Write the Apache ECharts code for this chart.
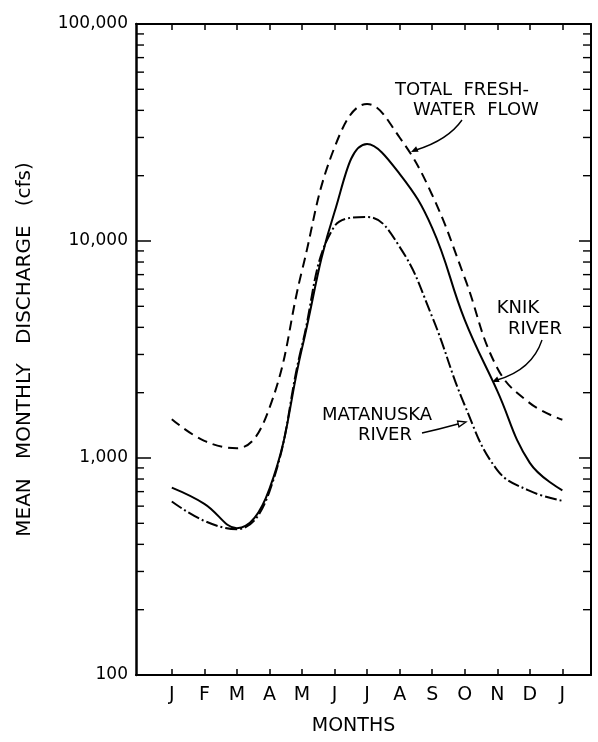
<!DOCTYPE html>
<html>
<head>
<meta charset="utf-8">
<script src="https://cdn.jsdelivr.net/npm/echarts@6/dist/echarts.min.js"></script>
<style>
  html, body { margin: 0; padding: 0; background: #fff; }
  #chart { width: 598px; height: 742px; }
</style>
</head>
<body>
<div id="chart"></div>
<script>
const MONTHS = ["J", "F", "M", "A", "M", "J", "J", "A", "S", "O", "N", "D", "J"];
const MONTH_POS = [0, 1, 2, 3, 4, 5, 6, 7, 8, 9, 10, 11, 12];

// mean monthly discharge, cfs
const TOTAL = [1510, 1200, 1110, 1700, 7300, 27000, 42800, 30000, 16300, 6760, 2600, 1790, 1500];
const KNIK = [730, 615, 475, 720, 3200, 13600, 28000, 20400, 11500, 4330, 2040, 950, 710];
const MATANUSKA = [630, 513, 470, 700, 3300, 11700, 12900, 9400, 4470, 1750, 880, 705, 635];

const Y_TICKS = [100, 1000, 10000, 100000];
const MINOR_TICKS = [200, 300, 400, 500, 600, 700, 800, 900,
  2000, 3000, 4000, 5000, 6000, 7000, 8000, 9000,
  20000, 30000, 40000, 50000, 60000, 70000, 80000, 90000];

const FONT = "DejaVu Sans";
const X_MIN = -1.1, X_MAX = 12.88;

const pairs = vals => MONTH_POS.map((m, i) => [m, vals[i]]);
const fmtNum = v => String(v).replace(/\B(?=(\d{3})+(?!\d))/g, ",");

function arrowHead(tip, from, len, half, filled) {
  const dx = tip[0] - from[0], dy = tip[1] - from[1];
  const d = Math.hypot(dx, dy);
  const ux = dx / d, uy = dy / d;
  const bx = tip[0] - ux * len, by = tip[1] - uy * len;
  return {
    type: "polygon",
    shape: { points: [tip, [bx - uy * half, by + ux * half], [bx + uy * half, by - ux * half]] },
    style: filled ? { fill: "#000" } : { fill: "#fff", stroke: "#000", lineWidth: 1.3 },
    z: 20,
  };
}

function label(text, x, y) {
  return {
    type: "text", x, y, z: 20,
    style: { text, font: `18px "${FONT}"`, fill: "#000", align: "center", verticalAlign: "middle" },
  };
}

const chart = echarts.init(document.getElementById("chart"));

const lineBase = { type: "line", symbol: "none", smooth: 0.42, silent: true, xAxisIndex: 0, yAxisIndex: 0 };

chart.setOption({
  backgroundColor: "#fff",
  animation: false,
  grid: { left: 136, right: 7, top: 24, bottom: 67 },
  xAxis: [{
    type: "value", min: X_MIN, max: X_MAX, position: "bottom",
    axisLine: { show: true, onZero: false, lineStyle: { color: "#000", width: 2.2 } },
    axisTick: { show: true, inside: true, length: 6, customValues: MONTH_POS, lineStyle: { color: "#000", width: 1.5 } },
    axisLabel: {
      customValues: MONTH_POS, margin: 11, color: "#000", fontFamily: FONT, fontSize: 19,
      formatter: v => MONTHS[Math.round(v)],
    },
    splitLine: { show: false },
    name: "MONTHS", nameLocation: "middle", nameGap: 42,
    nameTextStyle: { color: "#000", fontFamily: FONT, fontSize: 19, padding: [0, 20, 0, 0] },
  }, {
    type: "value", min: X_MIN, max: X_MAX, position: "top",
    axisLine: { show: true, onZero: false, lineStyle: { color: "#000", width: 2 } },
    axisTick: { show: true, inside: true, length: 6, customValues: MONTH_POS, lineStyle: { color: "#000", width: 1.5 } },
    axisLabel: { show: false },
    splitLine: { show: false },
  }],
  yAxis: [{
    type: "log", logBase: 10, min: 100, max: 100000, position: "left",
    axisLine: { show: true, onZero: false, lineStyle: { color: "#000", width: 2.5 } },
    axisTick: { show: true, inside: true, length: 15, lineStyle: { color: "#000", width: 1.5 } },
    axisLabel: {
      customValues: Y_TICKS, margin: 8, color: "#000", fontFamily: FONT, fontSize: 17,
      formatter: v => fmtNum(Math.round(v)),
    },
    splitLine: { show: false },
    name: "MEAN   MONTHLY   DISCHARGE   (cfs)", nameLocation: "middle", nameGap: 101, nameRotate: 90,
    nameTextStyle: { color: "#000", fontFamily: FONT, fontSize: 20 },
  }, {
    type: "log", logBase: 10, min: 100, max: 100000, position: "right",
    axisLine: { show: true, onZero: false, lineStyle: { color: "#000", width: 2 } },
    axisTick: { show: true, inside: true, length: 12, lineStyle: { color: "#000", width: 1.5 } },
    axisLabel: { show: false },
    splitLine: { show: false },
  }],
  series: [
    // minor log ticks on both vertical axes
    {
      type: "custom", silent: true, xAxisIndex: 0, yAxisIndex: 0, clip: false,
      data: MINOR_TICKS.map(v => [X_MIN, v]),
      renderItem: (params, api) => {
        const cs = params.coordSys;
        const y = api.coord([X_MIN, api.value(1)])[1];
        const st = { stroke: "#000", lineWidth: 1.4 };
        return {
          type: "group",
          children: [
            { type: "line", shape: { x1: cs.x, y1: y, x2: cs.x + 8, y2: y }, style: st },
            { type: "line", shape: { x1: cs.x + cs.width - 8, y1: y, x2: cs.x + cs.width, y2: y }, style: st },
          ],
        };
      },
    },
    { ...lineBase, name: "Total fresh-water flow", data: pairs(TOTAL),
      lineStyle: { color: "#000", width: 2, type: [10, 6] } },
    { ...lineBase, name: "Knik River", data: pairs(KNIK),
      lineStyle: { color: "#000", width: 2, type: "solid" } },
    { ...lineBase, name: "Matanuska River", data: pairs(MATANUSKA),
      lineStyle: { color: "#000", width: 2, type: [12, 3, 2, 3] } },
  ],
  graphic: [
    label("TOTAL  FRESH-", 462, 90),
    label("WATER  FLOW", 476, 110),
    label("KNIK", 518, 308),
    label("RIVER", 535, 329),
    label("MATANUSKA", 377, 415),
    label("RIVER", 385, 435),
    { type: "bezierCurve", z: 20, shape: { x1: 462, y1: 120, cpx1: 448, cpy1: 140, x2: 416, y2: 150 },
      style: { stroke: "#000", lineWidth: 1.4, fill: null } },
    arrowHead([411, 152], [424, 146], 7, 3, true),
    { type: "bezierCurve", z: 20, shape: { x1: 542, y1: 340, cpx1: 532, cpy1: 370, x2: 497, y2: 380 },
      style: { stroke: "#000", lineWidth: 1.4, fill: null } },
    arrowHead([492, 382], [506, 376], 7, 3, true),
    { type: "bezierCurve", z: 20, shape: { x1: 422, y1: 433, cpx1: 440, cpy1: 429, x2: 458, y2: 424 },
      style: { stroke: "#000", lineWidth: 1.4, fill: null } },
    arrowHead([466, 422], [450, 426], 8, 3, false),
  ],
});

window.addEventListener("resize", () => chart.resize());
</script>
</body>
</html>
